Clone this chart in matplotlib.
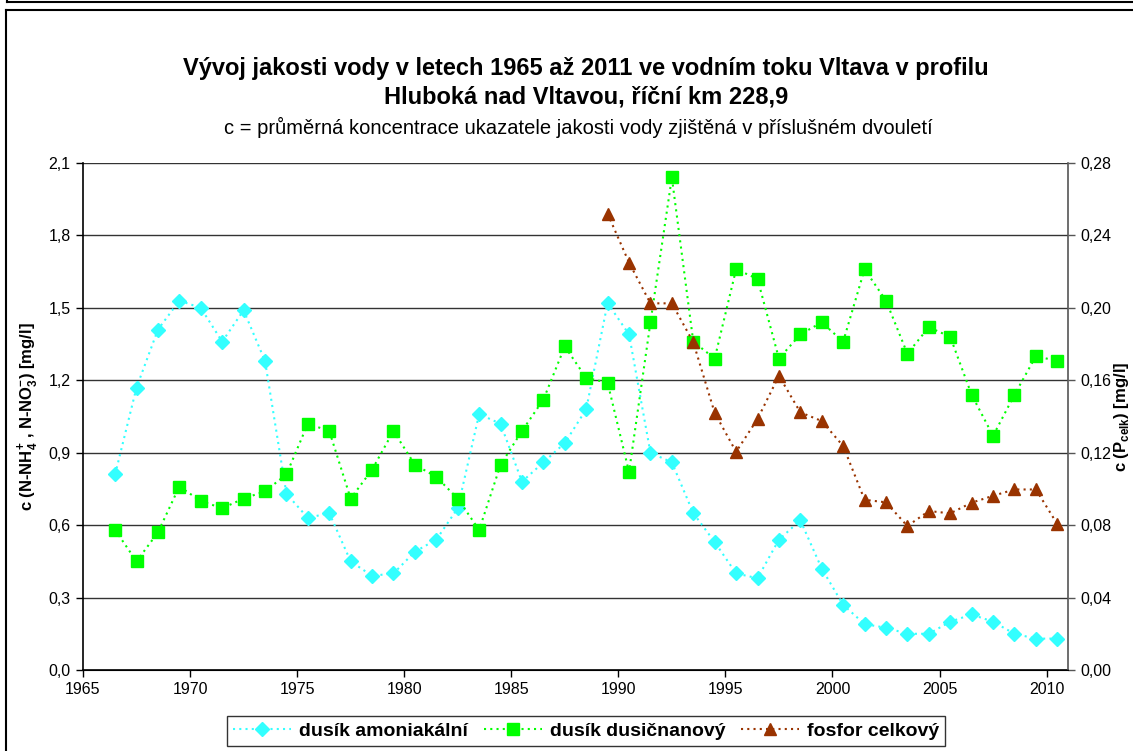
import matplotlib
matplotlib.use("Agg")
import matplotlib.pyplot as plt
from matplotlib.lines import Line2D
from matplotlib.ticker import FuncFormatter, MultipleLocator
import numpy as np

plt.rcParams['font.family'] = ['Liberation Sans', 'DejaVu Sans']
plt.rcParams['mathtext.fontset'] = 'custom'
plt.rcParams['mathtext.rm'] = 'Liberation Sans'
plt.rcParams['mathtext.bf'] = 'Liberation Sans:bold'

# roky (stredy dvouleti)
roky = np.arange(1966.5, 2011.0, 1.0)

# dusik amoniakalni [mg/l]
amon = [0.81, 1.17, 1.41, 1.53, 1.50, 1.36, 1.49, 1.28, 0.73, 0.63,
        0.65, 0.45, 0.39, 0.40, 0.49, 0.54, 0.67, 1.06, 1.02, 0.78,
        0.86, 0.94, 1.08, 1.52, 1.39, 0.90, 0.86, 0.65, 0.53, 0.40,
        0.38, 0.54, 0.62, 0.42, 0.27, 0.19, 0.175, 0.15, 0.15, 0.20,
        0.23, 0.20, 0.15, 0.13, 0.13]

# dusik dusicnanovy [mg/l]
dusic = [0.58, 0.45, 0.57, 0.76, 0.70, 0.67, 0.71, 0.74, 0.81, 1.02,
         0.99, 0.71, 0.83, 0.99, 0.85, 0.80, 0.71, 0.58, 0.85, 0.99,
         1.12, 1.34, 1.21, 1.19, 0.82, 1.44, 2.04, 1.36, 1.29, 1.66,
         1.62, 1.29, 1.39, 1.44, 1.36, 1.66, 1.53, 1.31, 1.42, 1.38,
         1.14, 0.97, 1.14, 1.30, 1.28]

# fosfor celkovy [mg/l], od 1989.5
roky_p = np.arange(1989.5, 2011.0, 1.0)
fosfor = [0.252, 0.225, 0.2025, 0.2025, 0.181, 0.142, 0.1205, 0.1386, 0.1625, 0.1423,
          0.1375, 0.1237, 0.094, 0.0926, 0.0795, 0.0878, 0.0865, 0.0924, 0.0962, 0.0997,
          0.0997, 0.0806]

fig = plt.figure(figsize=(11.33, 7.51), dpi=100)
ax = fig.add_axes([83/1133, 1 - 670/751, (1068 - 83)/1133, (670 - 163)/751])
ax2 = ax.twinx()

# mrizka
for yy in np.arange(0.3, 2.11, 0.3):
    ax.axhline(yy, color='#333333', lw=1.0, zorder=0)

l1, = ax.plot(roky, amon, ls=(0, (1, 2)), lw=1.5, color='#33ffff',
              marker='D', ms=7.5, mec='#33ffff', mfc='#33ffff', label='dusík amoniakální')
l2, = ax.plot(roky, dusic, ls=(0, (1, 2)), lw=1.5, color='#00ff00',
              marker='s', ms=8, mec='#00ff00', mfc='#00ff00', label='dusík dusičnanový')
l3, = ax2.plot(roky_p, fosfor, ls=(0, (1, 2)), lw=1.5, color='#993300',
               marker='^', ms=8.5, mec='#993300', mfc='#993300', label='fosfor celkový')

ax.set_xlim(1965, 2011)
ax.set_ylim(0, 2.1)
ax2.set_ylim(0, 0.28)
ax.xaxis.set_major_locator(MultipleLocator(5))
ax.yaxis.set_major_locator(MultipleLocator(0.3))
ax2.yaxis.set_major_locator(MultipleLocator(0.04))
ax.yaxis.set_major_formatter(FuncFormatter(lambda v, p: ('%.1f' % v).replace('.', ',')))
ax2.yaxis.set_major_formatter(FuncFormatter(lambda v, p: ('%.2f' % v).replace('.', ',')))

ax.spines['top'].set_visible(False)
ax2.spines['top'].set_visible(False)
ax.spines['right'].set_visible(False)
ax2.spines['left'].set_visible(False)
ax2.spines['right'].set_color('#555555')
ax2.spines['right'].set_linewidth(1.2)
for s in ['left', 'bottom']:
    ax.spines[s].set_linewidth(1.2)

ax.tick_params(axis='both', direction='out', length=5, width=1, labelsize=11.5, pad=4)
ax2.tick_params(axis='y', direction='out', length=5, width=1, labelsize=11.5, pad=4, color='#555555')

ax.set_ylabel(r'c (N-NH$_\mathbf{4}^\mathbf{+}$ , N-NO$_\mathbf{3}^\mathbf{-}$) [mg/l]',
              fontsize=12, fontweight='bold', labelpad=6)
ax2.set_ylabel(r'c (P$_\mathbf{celk}$) [mg/l]', fontsize=12, fontweight='bold', labelpad=0)

# nadpis
fig.text(0.517, 1 - 68/751, 'Vývoj jakosti vody v letech 1965 až 2011 ve vodním toku Vltava v profilu',
         ha='center', va='center', fontsize=17, fontweight='bold')
fig.text(0.517, 1 - 97/751, 'Hluboká nad Vltavou, říční km 228,9',
         ha='center', va='center', fontsize=17, fontweight='bold')
fig.text(0.51, 1 - 127/751, 'c = průměrná koncentrace ukazatele jakosti vody zjištěná v příslušném dvouletí',
         ha='center', va='center', fontsize=14.5)

leg = fig.legend(handles=[l1, l2, l3], loc='center', bbox_to_anchor=(586/1133, 1 - 731/751),
                 ncol=3, frameon=True, fancybox=False, edgecolor='black',
                 prop={'weight': 'bold', 'size': 14}, handlelength=3, columnspacing=0.8,
                 handletextpad=0.4, borderpad=0.3)
leg.get_frame().set_linewidth(1.0)

# ramecek grafu
W, H = 1133, 751
fig.add_artist(Line2D([6/W, 6/W], [0, 1 - 10/H], color='black', lw=1.5))
fig.add_artist(Line2D([6/W, 1], [1 - 10/H, 1 - 10/H], color='black', lw=1.5))
fig.add_artist(Line2D([7/W, 1], [1 - 2/H, 1 - 2/H], color='black', lw=1.5))
fig.add_artist(Line2D([7/W, 7/W], [1 - 2/H, 1], color='black', lw=1.5))

fig.savefig('out.png', dpi=100)
